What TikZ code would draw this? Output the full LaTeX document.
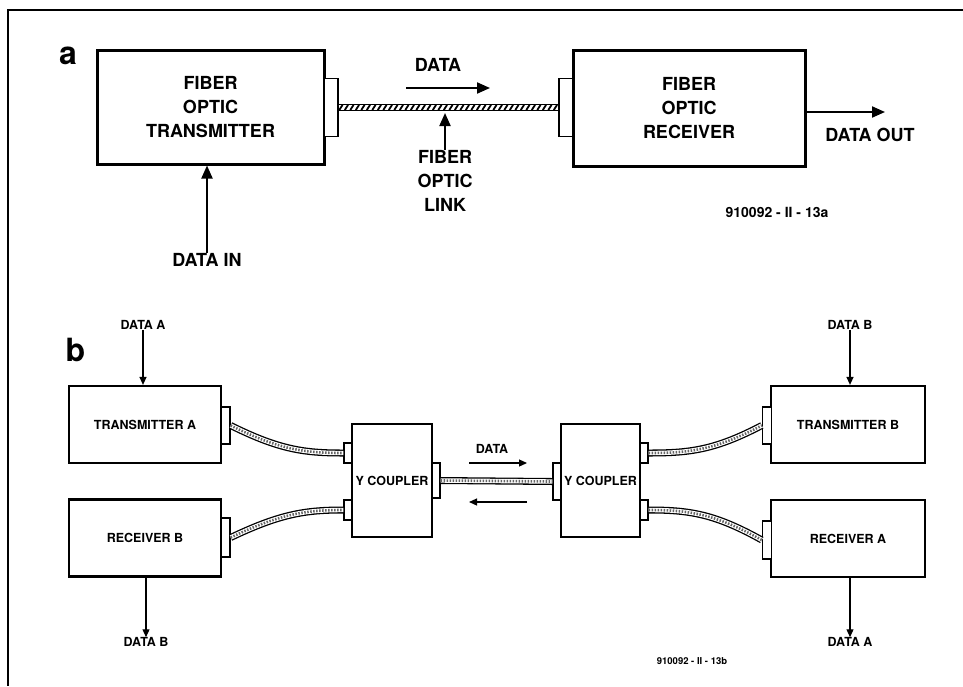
\documentclass[tikz,border=0pt]{standalone}
\usepackage{fontspec}
\setmainfont{TeX Gyre Heros}
\usepackage{tikz}
\usetikzlibrary{arrows.meta,positioning,decorations.markings}

\tikzset{
  bigbox/.style={draw, line width=3pt, inner sep=0pt, align=center, font=\fontsize{18}{24}\selectfont\bfseries},
  smallbox/.style={draw, line width=2.2pt, inner sep=0pt, align=center, font=\fontsize{12.5}{15}\selectfont\bfseries},
  plug/.style={draw, line width=1.4pt, fill=white, inner sep=0pt},
  biglbl/.style={font=\fontsize{18}{24}\selectfont\bfseries, align=center, inner sep=0pt},
  smalllbl/.style={font=\fontsize{12.5}{15}\selectfont\bfseries, inner sep=0pt},
  arra/.style={line width=2pt, -{Triangle[length=13pt,width=11pt]}},
  arrb/.style={line width=1.2pt, -{Triangle[length=8pt,width=7pt]}},
  fibera/.style={draw, line width=1.2pt, double=white, double distance=5pt,
    postaction={decorate}, decoration={markings,
      mark=between positions 0.01 and 0.99 step 5.5pt with {\draw[line width=1.8pt] (-1.6,2.5) -- (1.6,-2.5);}}},
  fiberb/.style={draw=black!60, line width=2.6pt, dash pattern=on 1.5pt off 1.5pt,
    preaction={draw=black, solid, line width=7pt},
    preaction={draw=white, solid, line width=4.4pt}},
}

\begin{document}
\begin{tikzpicture}[x=1pt,y=-1pt]
  \useasboundingbox (0,0) rectangle (963,686);
  \draw[line width=1.4pt] (963,10) -- (8,10) -- (8,686);

  % a: point to point link
  \node[font=\fontsize{32}{32}\selectfont\bfseries, inner sep=0pt] (la) at (68,56) {a};
  \node[bigbox, minimum width=227pt, minimum height=114pt] (tx) at (210.5,107) {FIBER\\OPTIC\\TRANSMITTER};
  \node[bigbox, minimum width=232pt, minimum height=116pt] (rx) at (689,108.5) {FIBER\\OPTIC\\RECEIVER};
  \node[plug, minimum width=14pt, minimum height=58pt] (txplug) at (331,107.5) {};
  \node[plug, minimum width=14pt, minimum height=58pt] (rxplug) at (566,107.5) {};
  \path[fibera] (txplug.east) -- (rxplug.west);

  \node[biglbl] (data) at (438,65) {DATA};
  \coordinate (d1) at (406,88);
  \coordinate (d2) at (490,88);
  \draw[arra] (d1) -- (d2);

  \node[biglbl] (link) at (445,181) {FIBER\\OPTIC\\LINK};
  \coordinate (linktip) at (445,113);
  \draw[arra] (link.north) -- (linktip);

  \node[biglbl] (datain) at (207,260) {DATA IN};
  \draw[arra] (datain.north) -- (tx.south -| datain.north);

  \node[biglbl] (dataout) at (870,135) {DATA OUT};
  \coordinate (dout) at (885,112);
  \draw[arra] (rx.east |- dout) -- (dout);

  \node[font=\fontsize{14}{16}\selectfont\bfseries, inner sep=0pt] (ida) at (777,212) {910092 - II - 13a};

  % b: duplex link with Y couplers
  \node[font=\fontsize{32}{32}\selectfont\bfseries, inner sep=0pt] (lb) at (75.5,350) {b};
  \node[smallbox, minimum width=152pt, minimum height=77pt] (txa) at (145,424.5) {TRANSMITTER A};
  \node[smallbox, minimum width=152pt, minimum height=77pt] (rxb) at (145,538) {RECEIVER B};
  \node[smallbox, minimum width=154pt, minimum height=77pt] (txb) at (848,424.5) {TRANSMITTER B};
  \node[smallbox, minimum width=154pt, minimum height=77pt] (rxa) at (848,538.5) {RECEIVER A};
  \node[smallbox, minimum width=80pt, minimum height=113pt] (cpla) at (392,480.5) {Y COUPLER};
  \node[smallbox, minimum width=79pt, minimum height=113pt] (cplb) at (600.5,480.5) {Y COUPLER};

  \node[plug, minimum width=9pt, minimum height=37pt] (txaplug) at (225.5,425.5) {};
  \node[plug, minimum width=9pt, minimum height=39pt] (rxbplug) at (225.5,537.5) {};
  \node[plug, minimum width=9pt, minimum height=37pt] (txbplug) at (767,425.5) {};
  \node[plug, minimum width=9pt, minimum height=38pt] (rxaplug) at (767,540) {};
  \node[plug, minimum width=8pt, minimum height=20pt] (cplaup) at (348,453) {};
  \node[plug, minimum width=8pt, minimum height=20pt] (cpladn) at (348,510) {};
  \node[plug, minimum width=8pt, minimum height=35pt] (cplaout) at (436,480.5) {};
  \node[plug, minimum width=8pt, minimum height=37pt] (cplbin) at (557,481.5) {};
  \node[plug, minimum width=8pt, minimum height=20pt] (cplbup) at (644,453) {};
  \node[plug, minimum width=8pt, minimum height=20pt] (cplbdn) at (644,510) {};

  \path[fiberb] (txaplug.east) .. controls (280,450) and (305,453) .. (cplaup.west);
  \path[fiberb] (rxbplug.east) .. controls (280,514) and (305,510) .. (cpladn.west);
  \path[fiberb] (cplaout.east) -- (cplbin.west);
  \path[fiberb] (cplbup.east) .. controls (690,453) and (715,450) .. (txbplug.west);
  \path[fiberb] (cplbdn.east) .. controls (690,510) and (715,514) .. (rxaplug.west);

  \node[smalllbl] (datab) at (492,449) {DATA};
  \coordinate (e1) at (469,463);
  \coordinate (e2) at (527,463);
  \coordinate (e3) at (527,502);
  \coordinate (e4) at (469,502);
  \draw[arrb] (e1) -- (e2);
  \draw[arrb] (e3) -- (e4);

  \node[smalllbl] (ina) at (143,325) {DATA A};
  \draw[arrb] (ina.south) -- (txa.north -| ina.south);
  \node[smalllbl] (inb) at (850,325) {DATA B};
  \draw[arrb] (inb.south) -- (txb.north -| inb.south);
  \node[smalllbl] (outb) at (146,642) {DATA B};
  \draw[arrb] (rxb.south -| outb.north) -- (outb.north);
  \node[smalllbl] (outa) at (850,642) {DATA A};
  \draw[arrb] (rxa.south -| outa.north) -- (outa.north);

  \node[font=\fontsize{9.5}{11}\selectfont\bfseries, inner sep=0pt] (idb) at (692,661) {910092 - II - 13b};
\end{tikzpicture}
\end{document}
